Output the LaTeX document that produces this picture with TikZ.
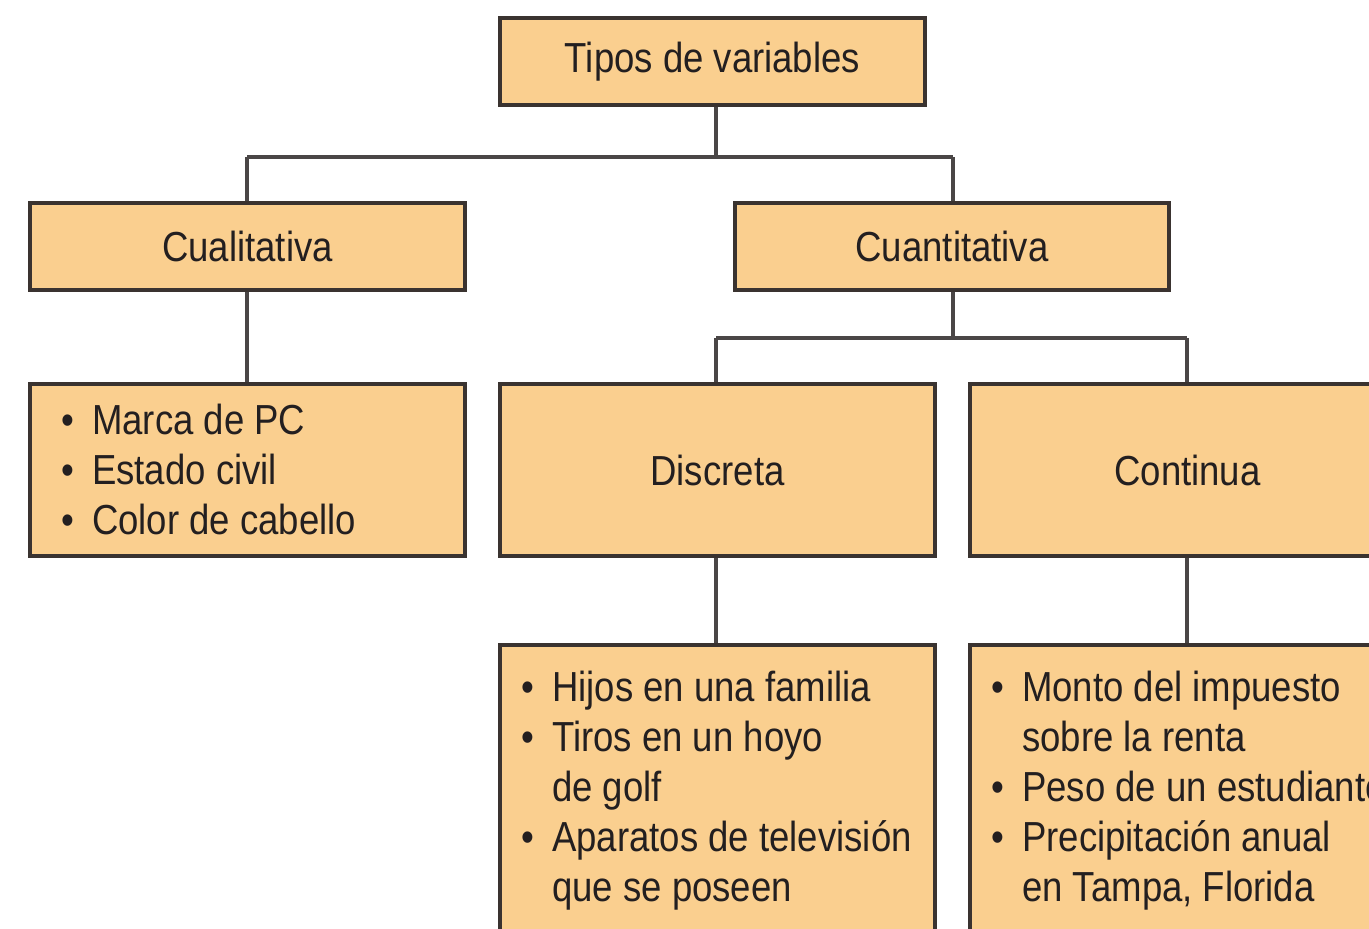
\documentclass[tikz,border=0pt]{standalone}
\usepackage{fontspec}
\setmainfont[FakeStretch=0.87]{Liberation Sans}
\definecolor{boxfill}{HTML}{FACF8F}
\definecolor{boxline}{HTML}{3A3330}
\definecolor{linkcol}{HTML}{4A4646}
\definecolor{txt}{HTML}{231F20}
\newcommand{\bul}{\makebox[31pt][l]{\textbullet}}
\begin{document}
\begin{tikzpicture}[x=1pt,y=-1pt,
  box/.style={draw=boxline,line width=3.5pt,fill=boxfill,inner sep=0pt,text=txt,
    font=\fontsize{42}{50}\selectfont},
  lst/.style={inner sep=0pt,text=txt,anchor=base west,
    font=\fontsize{42}{50}\selectfont},
  link/.style={draw=linkcol,line width=3.5pt}]
\clip (0,0) rectangle (1369,929);
\fill[white] (0,0) rectangle (1369,929);
% boxes
\node[box,minimum width=425,minimum height=87] (top) at (712.5,61.5) {Tipos de variables};
\node[box,minimum width=435,minimum height=87] (cual) at (247.5,246.5) {Cualitativa};
\node[box,minimum width=434,minimum height=87] (cuan) at (952,246.5) {Cuantitativa};
\node[box,minimum width=435,minimum height=172] (cuallist) at (247.5,470) {};
\node[box,minimum width=435,minimum height=172] (disc) at (717.5,470) {Discreta};
\node[box,minimum width=435,minimum height=172] (cont) at (1187.5,470) {Continua};
\node[box,minimum width=435,minimum height=360] (disclist) at (717.5,825) {};
\node[box,minimum width=435,minimum height=360] (contlist) at (1187.5,825) {};
% connectors
\coordinate (j1) at (716,157);
\coordinate (j2) at (953,338);
\draw[link] (top.south -| j1) -- (j1);
\draw[link] (247,157) -- (953,157);
\draw[link] (cual.north -| 247,0) -- (247,157);
\draw[link] (cuan.north -| 953,0) -- (953,157);
\draw[link] (cual.south -| 247,0) -- (cuallist.north -| 247,0);
\draw[link] (cuan.south -| j2) -- (j2);
\draw[link] (716,338) -- (1187,338);
\draw[link] (disc.north -| 716,0) -- (716,338);
\draw[link] (cont.north -| 1187,0) -- (1187,338);
\draw[link] (disc.south -| 716,0) -- (disclist.north -| 716,0);
\draw[link] (cont.south -| 1187,0) -- (contlist.north -| 1187,0);
% lists
\node[lst] (l1) at (61,434) {\begin{tabular}[t]{@{}l@{}l@{}}
\bul & Marca de PC\\
\bul & Estado civil\\
\bul & Color de cabello
\end{tabular}};
\node[lst] (l2) at (521,701) {\begin{tabular}[t]{@{}l@{}l@{}}
\bul & Hijos en una familia\\
\bul & Tiros en un hoyo\\
 & de golf\\
\bul & Aparatos de televisión\\
 & que se poseen
\end{tabular}};
\node[lst] (l3) at (991,701) {\begin{tabular}[t]{@{}l@{}l@{}}
\bul & Monto del impuesto\\
 & sobre la renta\\
\bul & Peso de un estudiante\\
\bul & Precipitación anual\\
 & en Tampa, Florida
\end{tabular}};
\end{tikzpicture}
\end{document}
